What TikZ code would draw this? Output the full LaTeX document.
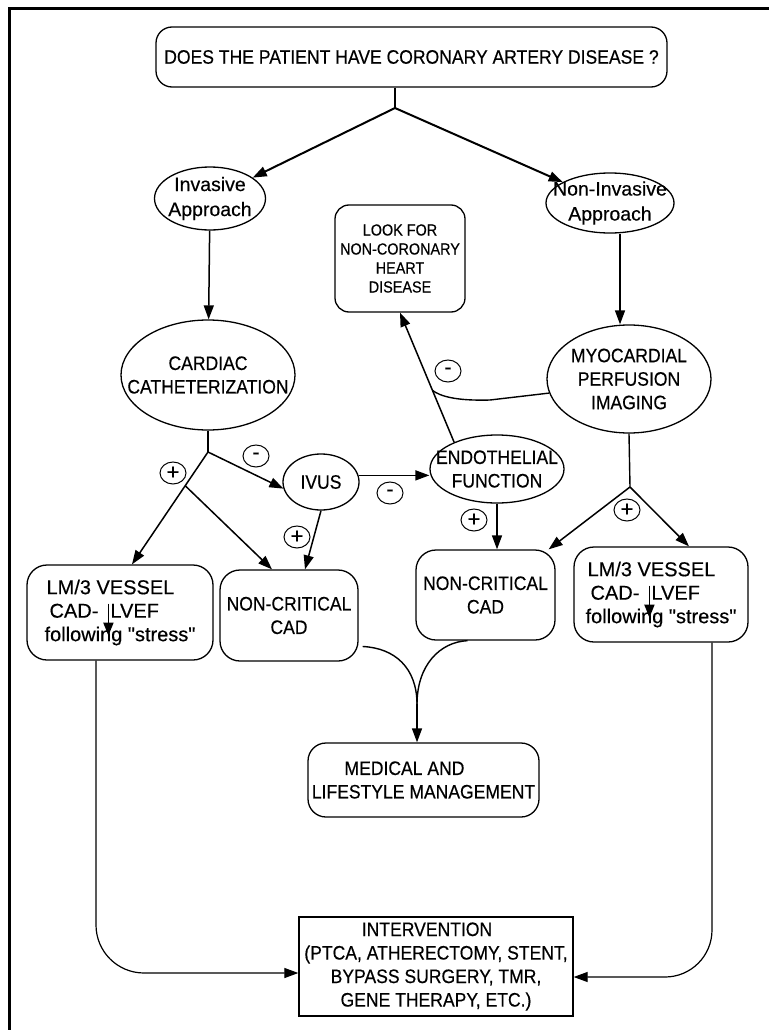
\documentclass[tikz,border=0pt]{standalone}
\usepackage{fontspec}
\setmainfont[FakeBold=0.4]{Liberation Sans}
\newfontfamily\capsf[FakeStretch=0.9,FakeBold=0.4]{Liberation Sans}
\usetikzlibrary{arrows.meta,calc,shapes.geometric}
\newcommand{\dnarr}{\tikz[overlay,baseline=0pt,x=1pt,y=1pt]\draw[line width=1.6pt,-{Triangle[length=13pt,width=10pt]}] (0,14) -- (0,-18);}
\begin{document}
\begin{tikzpicture}[x=1pt,y=-1pt,
  box/.style={draw,line width=1.3pt,rounded corners=16pt,inner sep=0pt,align=center,font=\capsf\fontsize{19.5}{23.5}\selectfont},
  lmbox/.style={draw,line width=1.3pt,rounded corners=20pt,inner sep=0pt,align=left,font=\fontsize{20}{23.5}\selectfont},
  ell/.style={draw,ellipse,line width=1.3pt,inner xsep=-60pt,inner ysep=-30pt,align=center,font=\capsf\fontsize{19.5}{23.5}\selectfont},
  ellm/.style={ell,font=\fontsize{19.5}{25}\selectfont},
  sgn/.style={draw,ellipse,line width=1pt,minimum width=26pt,minimum height=22pt,inner sep=0pt,font=\fontsize{22}{22}\selectfont},
  ln/.style={line width=1.4pt},
  lnT/.style={line width=2pt},
  arr/.style={line width=1.5pt,-{Triangle[length=14pt,width=10pt]}},
  arrT/.style={arr,line width=2pt},
  arrL/.style={line width=1.2pt,-{Triangle[length=14pt,width=10pt]}}]
\useasboundingbox (0,0) rectangle (769,1030);
\draw[line width=3pt] (9,1030) -- (9,9) -- (769,9);

\node[box,minimum width=511pt,minimum height=60pt] (q) at (411.5,57) {DOES THE PATIENT HAVE CORONARY ARTERY DISEASE ?};
\node[ellm,minimum width=111pt,minimum height=63pt] (inv) at (210,198.5) {Invasive\\Approach};
\node[ellm,minimum width=128pt,minimum height=60pt] (ninv) at (610,203) {Non-Invasive\\Approach};
\node[box,rounded corners=14pt,minimum width=130pt,minimum height=107pt,font=\capsf\fontsize{16}{19}\selectfont] (look) at (400,258.5) {LOOK FOR\\NON-CORONARY\\HEART\\DISEASE};
\node[ell,minimum width=174pt,minimum height=110pt] (cath) at (208,375) {CARDIAC\\CATHETERIZATION};
\node[ell,minimum width=164pt,minimum height=108pt] (mpi) at (629,379) {MYOCARDIAL\\PERFUSION\\IMAGING};
\node[ell,minimum width=76pt,minimum height=56pt] (ivus) at (321,482) {IVUS};
\node[ell,minimum width=134pt,minimum height=68pt] (endo) at (497,469) {ENDOTHELIAL\\FUNCTION};
\node[lmbox,minimum width=186pt,minimum height=95pt] (lm1) at (120,612.5) {\hspace*{2pt}LM/3 VESSEL\\\hspace*{5pt}CAD-\hspace{10pt}\dnarr\hspace{2pt}LVEF\\following \textquotedbl stress\textquotedbl};
\node[box,rounded corners=20pt,minimum width=138pt,minimum height=91pt] (nc1) at (289,615.5) {NON-CRITICAL\\CAD};
\node[box,rounded corners=20pt,minimum width=139pt,minimum height=90pt] (nc2) at (485.5,595) {NON-CRITICAL\\CAD};
\node[lmbox,minimum width=174pt,minimum height=95pt] (lm2) at (661,594.5) {\hspace*{2pt}LM/3 VESSEL\\\hspace*{5pt}CAD-\hspace{10pt}\dnarr\hspace{2pt}LVEF\\following \textquotedbl stress\textquotedbl};
\node[box,rounded corners=18pt,minimum width=231pt,minimum height=74pt] (med) at (423.5,780) {MEDICAL AND\hspace*{38pt}\\LIFESTYLE MANAGEMENT};
\node[box,rounded corners=0pt,minimum width=274pt,minimum height=99pt] (intv) at (436,966.5) {INTERVENTION\hspace*{18pt}\\(PTCA, ATHERECTOMY, STENT,\\BYPASS SURGERY, TMR,\\GENE THERAPY, ETC.)};

% signs
\node[sgn] (sa) at (448,371) {\raisebox{-3pt}{-}};
\node[sgn] (sb) at (256,456) {\raisebox{-3pt}{-}};
\node[sgn] (sc) at (173,473) {\raisebox{-2pt}{+}};
\node[sgn] (sd) at (390,493) {\raisebox{-3pt}{-}};
\node[sgn] (se) at (297,537) {\raisebox{-2pt}{+}};
\node[sgn] (sf) at (474,520) {\raisebox{-2pt}{+}};
\node[sgn] (sg) at (627,510) {\raisebox{-2pt}{+}};

% top
\coordinate (b0) at (395,108);
\draw[lnT] (b0 |- q.south) -- (b0);
\draw[arrT] (b0) -- (inv);
\draw[arrT] (b0) -- (ninv);
\draw[arr] (inv) -- (cath);
\coordinate (vr) at (620,0);
\draw[arr] (vr |- ninv.south) -- (vr |- mpi.north);

% look for
\draw[arr] (endo.148) -- (look.south);
\coordinate (j) at ($(endo.148)!0.4!(look.south)$);
\coordinate (k) at (490,400);
\draw[ln] (mpi.190) -- (k) .. controls (455,401) and (440,396) .. (j);

% cardiac branch
\coordinate (b1) at (208,452);
\draw[ln] (cath.south) -- (b1);
\draw[arr] (b1) -- (ivus.190);
\coordinate (t1) at ([xshift=12pt]lm1.north);
\draw[arr] (b1) -- (t1);
\coordinate (s1) at ($(b1)!0.3!(t1)$);
\draw[arr] (s1) -- ([xshift=-17pt]nc1.north);
\draw[arr] (ivus.south) -- ([xshift=16pt]nc1.north);
\draw[arr] (ivus.10) -- (endo.west |- ivus.10);
\draw[arr] (endo.south) -- (endo.south |- nc2.north);

% mpi branch
\coordinate (b2) at (630,487);
\draw[ln] (mpi.south) -- (b2);
\draw[arr] (b2) -- ([xshift=-7pt]nc2.north east);
\draw[arr] (b2) -- ([xshift=28pt]lm2.north);

% to medical
\coordinate (mtop) at ([xshift=-6.5pt]med.north);
\coordinate (m0) at ($(mtop)+(0,-38)$);
\draw[ln] ($(nc1.east)+(4,31)$) .. controls (395,648) and (417,668) .. (m0);
\draw[ln] ($(nc2.south)+(-18,0)$) .. controls (440,642) and (417,665) .. (m0);
\draw[arr] (m0) -- (mtop);

% to intervention
\coordinate (c1) at (96,973);
\draw[arrL,rounded corners=48pt] (c1 |- lm1.south) |- (intv.west |- c1);
\coordinate (c2) at (712,977);
\draw[arrL,rounded corners=47pt] (c2 |- lm2.south) |- (intv.east |- c2);
\end{tikzpicture}
\end{document}
